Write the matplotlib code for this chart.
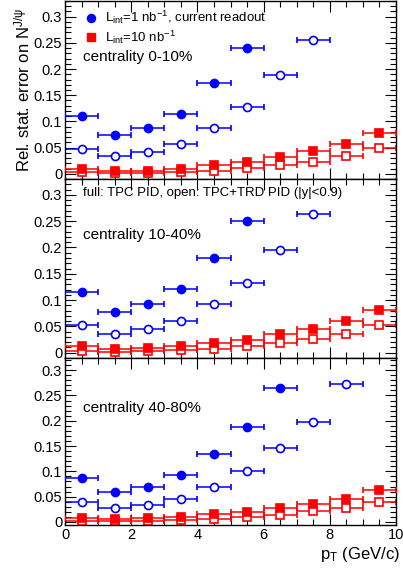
import matplotlib
matplotlib.use("Agg")
import matplotlib.pyplot as plt
import numpy as np
from matplotlib.ticker import MultipleLocator

plt.rcParams['font.family'] = ['Liberation Sans', 'DejaVu Sans']
plt.rcParams['mathtext.fontset'] = 'custom'
plt.rcParams['mathtext.rm'] = 'Liberation Sans'
plt.rcParams['mathtext.it'] = 'Liberation Sans:italic'

# pT bin centres (GeV/c), half width 0.5
pt = [0.5, 1.5, 2.5, 3.5, 4.5, 5.5, 6.5, 7.5, 8.5, 9.5]

# centrality 0-10%
c1_blue_full = [0.111, 0.074, 0.087, 0.115, 0.173, 0.241]
c1_blue_open = [0.048, 0.034, 0.042, 0.057, 0.088, 0.128, 0.188, 0.256]
c1_red_full = [0.009, 0.005, 0.006, 0.009, 0.016, 0.022, 0.032, 0.043, 0.057, 0.078]
c1_red_open = [0.0025, 0.002, 0.002, 0.0025, 0.0057, 0.011, 0.017, 0.022, 0.033, 0.049]

# centrality 10-40%
c2_blue_full = [0.116, 0.078, 0.092, 0.121, 0.180, 0.250]
c2_blue_open = [0.052, 0.036, 0.046, 0.060, 0.092, 0.133, 0.196, 0.264]
c2_red_full = [0.012, 0.0075, 0.0094, 0.012, 0.018, 0.025, 0.035, 0.046, 0.060, 0.082]
c2_red_open = [0.004, 0.0013, 0.003, 0.006, 0.008, 0.013, 0.019, 0.027, 0.036, 0.052]

# centrality 40-80%
c3_blue_full = [0.087, 0.059, 0.069, 0.092, 0.135, 0.188, 0.265]
c3_blue_open = [0.040, 0.028, 0.034, 0.045, 0.069, 0.100, 0.147, 0.198, 0.272]
c3_red_full = [0.0085, 0.006, 0.007, 0.009, 0.015, 0.020, 0.028, 0.035, 0.045, 0.063]
c3_red_open = [0.0026, 0.001, 0.002, 0.004, 0.006, 0.009, 0.014, 0.021, 0.028, 0.040]

panels = [
    ("centrality 0-10%", c1_blue_full, c1_blue_open, c1_red_full, c1_red_open),
    ("centrality 10-40%", c2_blue_full, c2_blue_open, c2_red_full, c2_red_open),
    ("centrality 40-80%", c3_blue_full, c3_blue_open, c3_red_full, c3_red_open),
]

W, H = 403, 574
fig = plt.figure(figsize=(W / 100, H / 100), dpi=100)

left = 65 / W
width = (396 - 65) / W
# (top px, bottom px, ylim)
boxes = [(1, 179, (-0.01, 0.33)), (179, 358, (-0.01, 0.33)), (358, 525, (-0.006, 0.324))]

BLUE = '#0000ff'
RED = '#ff0000'


def draw(ax, x, y, color, marker, filled, ms):
    n = len(y)
    ax.errorbar(x[:n], y, xerr=0.5, fmt=marker, color=color, ms=ms,
                mfc=color if filled else 'white', mec=color, mew=1.2,
                elinewidth=1.1, capsize=2, capthick=1.1, zorder=3 if filled else 2)


axes = []
for i, (top, bot, yl) in enumerate(boxes):
    ax = fig.add_axes([left, 1 - bot / H, width, (bot - top) / H])
    name, bf, bo, rf, ro = panels[i]
    draw(ax, pt, ro, RED, 's', False, 5.5)
    draw(ax, pt, rf, RED, 's', True, 5.5)
    draw(ax, pt, bo, BLUE, 'o', False, 5.8)
    draw(ax, pt, bf, BLUE, 'o', True, 5.8)
    ax.set_xlim(0, 10)
    ax.set_ylim(*yl)
    ax.xaxis.set_major_locator(MultipleLocator(2))
    ax.xaxis.set_minor_locator(MultipleLocator(0.5))
    ax.yaxis.set_major_locator(MultipleLocator(0.05))
    ax.yaxis.set_minor_locator(MultipleLocator(0.01))
    ax.set_yticks([0, 0.05, 0.1, 0.15, 0.2, 0.25, 0.3])
    ax.set_yticklabels(['0', '0.05', '0.1', '0.15', '0.2', '0.25', '0.3'])
    ax.tick_params(which='both', direction='in', top=True, right=True,
                   labelsize=10.5, width=0.8, pad=2)
    ax.tick_params(which='major', length=8)
    ax.tick_params(which='minor', length=4)
    for s in ax.spines.values():
        s.set_linewidth(1.0)
    if i < 2:
        ax.tick_params(labelbottom=False)
    ax.text(0.054, 0.685 if i < 2 else 0.70, name, transform=ax.transAxes,
            fontsize=11, va='center', ha='left')
    axes.append(ax)

# legend of the top panel
ax = axes[0]
ax.plot([0.078], [0.906], 'o', color=BLUE, ms=5.8, transform=ax.transAxes, clip_on=False)
ax.text(0.12, 0.906, r'L$_{\mathregular{int}}$=1 nb$^{\mathregular{-1}}$, current readout',
        transform=ax.transAxes, fontsize=9.5, va='center', ha='left')
ax.plot([0.078], [0.798], 's', color=RED, ms=5.5, transform=ax.transAxes, clip_on=False)
ax.text(0.12, 0.798, r'L$_{\mathregular{int}}$=10 nb$^{\mathregular{-1}}$',
        transform=ax.transAxes, fontsize=9.5, va='center', ha='left')

axes[1].text(0.054, 0.92, 'full: TPC PID, open: TPC+TRD PID (|y|<0.9)',
             transform=axes[1].transAxes, fontsize=9.5, va='center', ha='left')

fig.text(22 / W, 1 - 90 / H, r'Rel. stat. error on N$^{\mathregular{J/\psi}}$',
         rotation=90, ha='center', va='center', fontsize=12)
fig.text(400 / W, 1 - 555 / H, r'p$_{\mathregular{T}}$ (GeV/c)',
         ha='right', va='center', fontsize=12)

fig.savefig('out.png', dpi=100)
